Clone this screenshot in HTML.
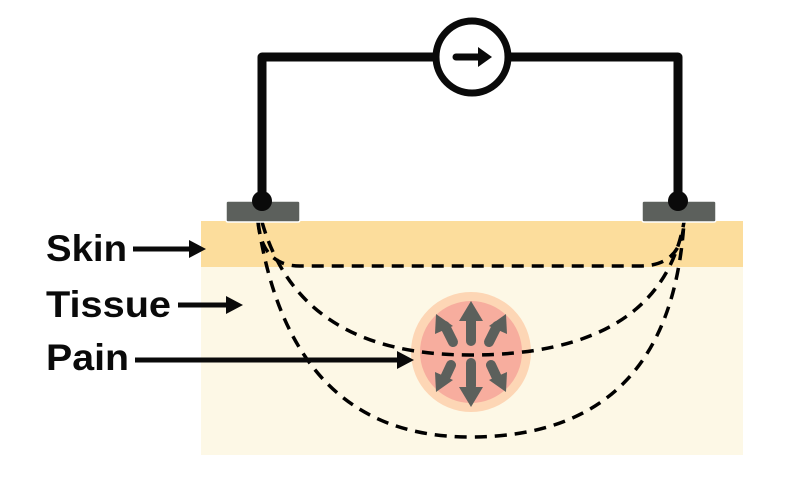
<!DOCTYPE html>
<html><head><style>
body{margin:0;background:#fff;width:800px;height:473px;overflow:hidden}
text{font-family:"Liberation Sans",sans-serif;font-weight:bold;font-size:37px;fill:#0a0a0a}
</style></head><body>
<svg width="800" height="473" viewBox="0 0 800 473" xmlns="http://www.w3.org/2000/svg">
<rect x="201" y="267" width="542" height="188" fill="#fdf8e6"/>
<rect x="201" y="221" width="542" height="46" fill="#fcdd9c"/>
<circle cx="471" cy="352" r="60" fill="#fdd6b5"/>
<circle cx="471" cy="352" r="51" fill="#f7ad9e"/>
<g stroke="#5c605c" stroke-width="10" stroke-linecap="round" fill="#5c605c">
<line x1="471" y1="341" x2="471" y2="318"/><line x1="471" y1="363" x2="471" y2="386"/>
<line x1="453" y1="342" x2="445" y2="326"/><line x1="489" y1="342" x2="497" y2="326"/>
<line x1="451" y1="365" x2="444" y2="380"/><line x1="491" y1="365" x2="498" y2="380"/>
</g>
<g fill="#5c605c">
<polygon points="471,301 459,321 483,321"/><polygon points="471,407 459,387 483,387"/>
<polygon points="436,314 435,334 453,326"/><polygon points="506,314 507,334 489,326"/>
<polygon points="436,392 435,372 453,380"/><polygon points="506,392 507,372 489,380"/>
</g>
<g fill="none" stroke="#000" stroke-width="3.5" stroke-dasharray="12,8">
<path d="M258,222 Q262,266 300,266 L640,266 Q682,266 684,222"/>
<path d="M262,222 Q300,355 470,355 Q660,355 684,222"/>
<path d="M258,222 Q290,437 470,437 Q670,437 684,222"/>
</g>
<rect x="226" y="201" width="74" height="21" rx="2" fill="#5c605c" stroke="#fff" stroke-width="1.5"/>
<rect x="642" y="201" width="74" height="21" rx="2" fill="#5c605c" stroke="#fff" stroke-width="1.5"/>
<path d="M262,201 L262,57 L678,57 L678,201" fill="none" stroke="#0a0a0a" stroke-width="9" stroke-linejoin="round"/>
<circle cx="262" cy="201" r="10" fill="#0a0a0a"/><circle cx="678" cy="201" r="10" fill="#0a0a0a"/>
<circle cx="472" cy="57" r="36" fill="#fff" stroke="#0a0a0a" stroke-width="7"/>
<line x1="456" y1="57" x2="480" y2="57" stroke="#0a0a0a" stroke-width="7" stroke-linecap="round"/>
<polygon points="492,57 478,47 478,67" fill="#0a0a0a"/>
<text x="46" y="261" textLength="81" lengthAdjust="spacingAndGlyphs">Skin</text>
<text x="46" y="317" textLength="125" lengthAdjust="spacingAndGlyphs">Tissue</text>
<text x="46" y="370" textLength="83" lengthAdjust="spacingAndGlyphs">Pain</text>
<g stroke="#0a0a0a" stroke-width="5"><line x1="133" y1="249" x2="192" y2="249"/><line x1="178" y1="305" x2="230" y2="305"/><line x1="135" y1="360" x2="400" y2="360"/></g>
<g fill="#0a0a0a"><polygon points="206,249 189,240 189,258"/><polygon points="243,305 226,296 226,314"/><polygon points="414,360 397,351 397,369"/></g>
</svg>
</body></html>
